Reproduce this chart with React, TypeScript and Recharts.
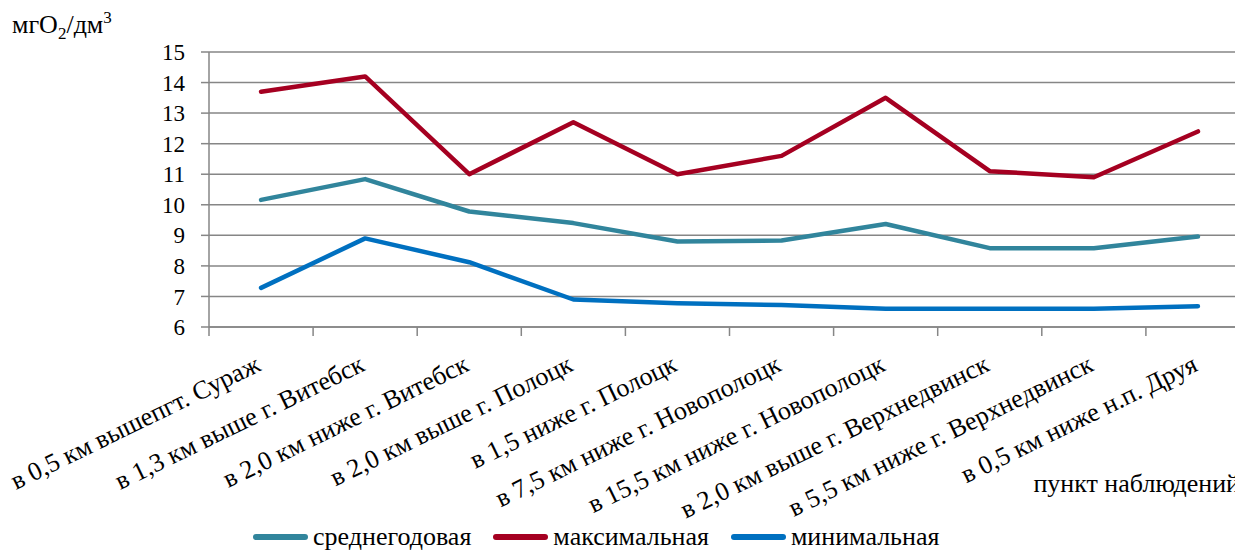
import { LineChart, Line, XAxis, YAxis, CartesianGrid, Legend } from 'recharts';

const categories = [
  'в 0,5 км вышепгт. Сураж',
  'в 1,3 км выше г. Витебск',
  'в 2,0 км ниже г. Витебск',
  'в 2,0 км выше г. Полоцк',
  'в 1,5 ниже г. Полоцк',
  'в 7,5 км ниже г. Новополоцк',
  'в 15,5 км ниже г. Новополоцк',
  'в 2,0 км выше г. Верхнедвинск',
  'в 5,5 км ниже г. Верхнедвинск',
  'в 0,5 км ниже н.п. Друя',
];

const avgValues = [10.16, 10.84, 9.78, 9.4, 8.8, 8.83, 9.37, 8.58, 8.58, 8.96];
const maxValues = [13.7, 14.2, 11.0, 12.7, 11.0, 11.6, 13.5, 11.1, 10.9, 12.4];
const minValues = [7.28, 8.9, 8.12, 6.9, 6.78, 6.72, 6.6, 6.6, 6.6, 6.68];
const yTicks = [6, 7, 8, 9, 10, 11, 12, 13, 14, 15];

const seriesNames = ['среднегодовая', 'максимальная', 'минимальная'];
const COLORS = ['#31859c', '#a50021', '#0070c0'];

const FONT = '"Liberation Serif", "Times New Roman", serif';
const GRID = '#868686';

const W = 1260;
const H = 551;
const AXIS_W = 209;
const MARGIN_R = 10;
const BAND = (W - AXIS_W - MARGIN_R) / categories.length;

const data = categories.map((name, i) => ({
  name,
  avg: avgValues[i],
  max: maxValues[i],
  min: minValues[i],
}));

// category label + Excel-style tick marks between categories
function XTick(props: any) {
  const { x, y, payload, index } = props;
  const half = BAND / 2;
  return (
    <g>
      <line x1={x - half} x2={x - half} y1={y} y2={y + 9} stroke={GRID} strokeWidth={1.5} />
      {index === categories.length - 1 && (
        <line x1={x + half} x2={x + half} y1={y} y2={y + 9} stroke={GRID} strokeWidth={1.5} />
      )}
      <text
        transform={`translate(${x + 1},${y + 43}) rotate(-26)`}
        textAnchor="end"
        fontFamily={FONT}
        fontSize={26}
        fill="#000"
      >
        {payload.value}
      </text>
    </g>
  );
}

function LegendContent() {
  return (
    <div style={{ display: 'flex', alignItems: 'center', height: 28, marginLeft: 253, fontFamily: FONT, fontSize: 26, color: '#000', lineHeight: '26px' }}>
      {seriesNames.map((n, i) => (
        <div key={n} style={{ display: 'flex', alignItems: 'center', marginRight: 22 }}>
          <span style={{ display: 'inline-block', width: 55, height: 6, borderRadius: 3, background: COLORS[i], marginRight: 5 }} />
          <span>{n}</span>
        </div>
      ))}
    </div>
  );
}

export default function App() {
  return (
    <div style={{ margin: '-8px 0 0 -8px', width: 1243, height: H, overflow: 'hidden', background: '#fff' }}>
      <LineChart width={W} height={H} data={data} margin={{ top: 52, right: MARGIN_R, bottom: 0, left: 0 }}>
        <CartesianGrid vertical={false} stroke={GRID} strokeWidth={1.5} />
        <XAxis
          dataKey="name"
          height={196}
          padding={{ left: BAND / 2, right: BAND / 2 }}
          tickSize={0}
          tickMargin={0}
          tickLine={false}
          interval={0}
          axisLine={{ stroke: GRID, strokeWidth: 1.5 }}
          tick={<XTick />}
          label={{
            content: () => (
              <text x={1240} y={492} textAnchor="end" fontFamily={FONT} fontSize={26} fill="#000">
                пункт наблюдений
              </text>
            ),
          }}
        />
        <YAxis
          width={AXIS_W}
          domain={[6, 15]}
          ticks={yTicks}
          interval={0}
          tickSize={8}
          tickMargin={16}
          axisLine={{ stroke: GRID, strokeWidth: 1.5 }}
          tickLine={{ stroke: GRID, strokeWidth: 1.5 }}
          tick={{ fontFamily: FONT, fontSize: 23, fill: '#000' }}
          label={{
            content: () => (
              <text x={12} y={33} fontFamily={FONT} fontSize={26} fill="#000">
                мгО
                <tspan fontSize={17} dy={6}>2</tspan>
                <tspan dy={-6}>/дм</tspan>
                <tspan fontSize={17} dy={-10}>3</tspan>
              </text>
            ),
          }}
        />
        <Legend verticalAlign="bottom" height={28} content={<LegendContent />} wrapperStyle={{ left: 0, width: W, bottom: 0 }} />
        <Line type="linear" dataKey="avg" name={seriesNames[0]} stroke={COLORS[0]} strokeWidth={4.5} strokeLinecap="round" strokeLinejoin="round" dot={false} isAnimationActive={false} />
        <Line type="linear" dataKey="max" name={seriesNames[1]} stroke={COLORS[1]} strokeWidth={4.5} strokeLinecap="round" strokeLinejoin="round" dot={false} isAnimationActive={false} />
        <Line type="linear" dataKey="min" name={seriesNames[2]} stroke={COLORS[2]} strokeWidth={4.5} strokeLinecap="round" strokeLinejoin="round" dot={false} isAnimationActive={false} />
      </LineChart>
    </div>
  );
}
